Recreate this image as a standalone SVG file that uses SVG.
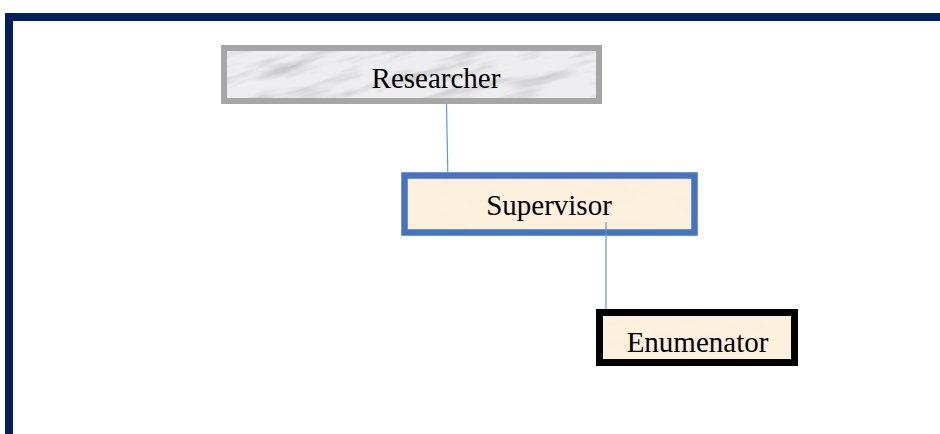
<svg xmlns="http://www.w3.org/2000/svg" width="940" height="434" viewBox="0 0 940 434">
  <defs>
    <!-- grey marble texture for the top box -->
    <filter id="marble" filterUnits="userSpaceOnUse" x="100" y="-100" width="620" height="320">
      <feTurbulence type="fractalNoise" baseFrequency="0.012 0.07" numOctaves="4" seed="11" result="noise"/>
      <feColorMatrix in="noise" type="matrix" values="0 0 0 0 0.5  0 0 0 0 0.5  0 0 0 0 0.53  -2.4 0 0 0 1.25" result="veins"/>
      <feFlood flood-color="#eeeef0" result="base"/>
      <feComposite in="veins" in2="base" operator="over" result="stone"/>
      <feComposite in="stone" in2="SourceGraphic" operator="in"/>
    </filter>
    <clipPath id="researcherClip">
      <rect x="224" y="48" width="375" height="53"/>
    </clipPath>
    <!-- warm parchment texture for the lower boxes -->
    <filter id="parchment" x="0" y="0" width="100%" height="100%">
      <feTurbulence type="fractalNoise" baseFrequency="0.02 0.05" numOctaves="3" seed="3" result="noise"/>
      <feColorMatrix in="noise" type="matrix" values="0 0 0 0 0.93  0 0 0 0 0.86  0 0 0 0 0.74  -1 0 0 0 0.6" result="tint"/>
      <feFlood flood-color="#fdf1dd" result="base"/>
      <feComposite in="tint" in2="base" operator="over" result="paper"/>
      <feComposite in="paper" in2="SourceGraphic" operator="in"/>
    </filter>
  </defs>
  <style>
    .label { font-family: "Liberation Serif", "Times New Roman", serif; font-size: 29px; fill: #000; text-anchor: middle; }
    .link { stroke: #5b9bd5; stroke-width: 1.2; fill: none; }
  </style>

  <rect width="940" height="434" fill="#ffffff"/>

  <!-- page frame -->
  <path d="M9,434 V17 H940" fill="none" stroke="#002060" stroke-width="8"/>

  <g id="researcher">
    <rect x="224" y="48" width="375" height="53" fill="#eeeef0"/>
    <g clip-path="url(#researcherClip)">
      <rect x="180" y="-20" width="460" height="190" fill="#eeeef0" filter="url(#marble)" transform="rotate(-14 411 75)"/>
    </g>
    <rect x="224" y="48" width="375" height="53" fill="none" stroke="#a6a6a6" stroke-width="6"/>
    <text class="label" x="436" y="88">Researcher</text>
  </g>

  <g id="supervisor">
    <rect x="404.5" y="175.5" width="290" height="57" fill="#fdf1dd" filter="url(#parchment)"/>
    <rect x="404.5" y="175.5" width="290" height="57" fill="none" stroke="#4472c4" stroke-width="6.5"/>
    <text class="label" x="549" y="215">Supervisor</text>
  </g>

  <g id="enumerator">
    <rect x="599.5" y="312.5" width="195" height="50" fill="#fdf1dd" filter="url(#parchment)"/>
    <rect x="599.5" y="312.5" width="195" height="50" fill="none" stroke="#000000" stroke-width="7"/>
    <text class="label" x="697.5" y="352">Enumenator</text>
  </g>

  <g id="connectors">
    <line class="link" x1="446.5" y1="104" x2="447.8" y2="172"/>
    <line class="link" x1="606" y1="222" x2="606" y2="309"/>
  </g>
</svg>
